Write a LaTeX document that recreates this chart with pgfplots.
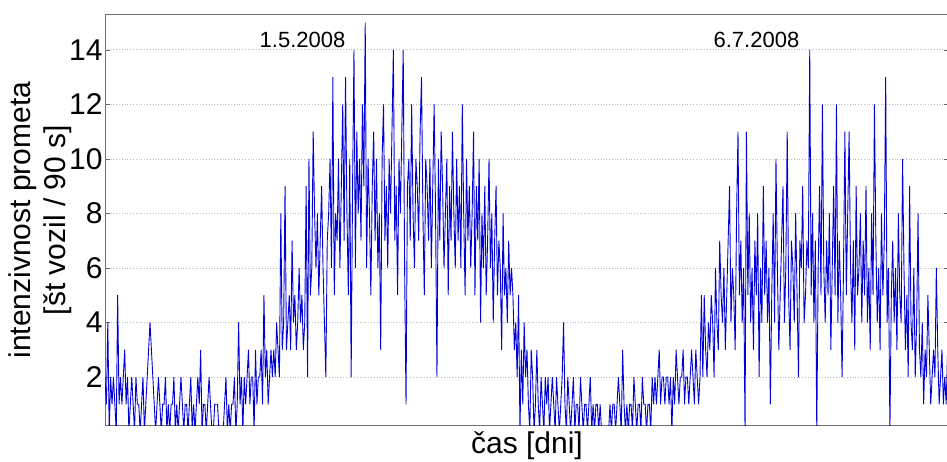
\documentclass[border=0pt]{standalone}
\usepackage{pgfplots}
\pgfplotsset{compat=1.18}
\usepackage{fontspec}
\setmainfont{Liberation Sans}
\begin{document}
\begin{tikzpicture}
\begin{axis}[
  at={(52.5pt,18pt)}, anchor=south west,
  scale only axis, width=422pt, height=205pt,
  xmin=0, xmax=600, ymin=0.24, ymax=15.28,
  xtick=\empty,
  ytick={2,4,...,14},
  ymajorgrids, grid style={densely dotted, gray!55, line width=0.4pt},
  tick align=inside, major tick length=2.5pt,
  tick style={black!60},
  axis line style={black!55, line width=0.5pt},
  ticklabel style={font=\fontsize{15}{15}\selectfont},
  yticklabel style={inner sep=1pt},
  /pgf/number format/assume math mode=true,
  ylabel={intenzivnost prometa\\{[}št vozil / 90 s]},
  ylabel style={at={([xshift=-16.5pt]axis description cs:0,0.5)}, anchor=south, align=center, inner sep=0pt, font=\fontsize{15}{17.5}\selectfont},
  xlabel={čas [dni]},
  xlabel style={at={([yshift=-14.2pt]axis description cs:0.5,0)}, anchor=base, inner sep=0pt, font=\fontsize{15}{15}\selectfont},
]
\addplot[color={rgb,1:red,0;green,0;blue,0.85}, line width=0.45pt, mark=none] table[x expr=\coordindex, y index=0, row sep=\\] {
y\\
2\\1\\4\\0\\2\\1\\2\\1\\0\\5\\
1\\2\\1\\2\\3\\1\\2\\0\\1\\2\\
1\\0\\2\\1\\1\\0\\1\\2\\0\\1\\
2\\3\\4\\3\\2\\1\\0\\1\\2\\1\\
0\\1\\1\\2\\0\\1\\0\\1\\1\\2\\
0\\1\\0\\1\\2\\1\\0\\1\\1\\0\\
1\\2\\0\\1\\0\\1\\2\\1\\3\\0\\
1\\1\\0\\1\\2\\1\\0\\0\\1\\1\\
1\\0\\0\\0\\0\\1\\2\\0\\1\\0\\
1\\1\\2\\0\\1\\4\\1\\2\\0\\2\\
1\\2\\3\\1\\2\\2\\0\\3\\1\\2\\
2\\3\\1\\5\\2\\3\\1\\2\\3\\2\\
3\\2\\4\\3\\2\\8\\3\\4\\9\\3\\
4\\5\\3\\7\\4\\5\\3\\4\\6\\4\\
5\\3\\4\\9\\2\\10\\5\\6\\11\\8\\
6\\8\\5\\7\\9\\6\\4\\2\\7\\8\\
10\\6\\13\\5\\8\\7\\10\\6\\9\\12\\
7\\13\\8\\5\\10\\2\\9\\14\\6\\11\\
8\\10\\7\\12\\9\\15\\6\\10\\8\\5\\
9\\11\\7\\10\\6\\8\\3\\10\\12\\7\\
9\\6\\10\\8\\11\\14\\7\\9\\5\\10\\
8\\11\\14\\6\\1\\9\\10\\7\\12\\8\\
6\\10\\9\\7\\11\\13\\8\\5\\10\\9\\
7\\10\\6\\9\\12\\8\\2\\10\\7\\11\\
9\\6\\8\\10\\5\\9\\7\\11\\8\\6\\
10\\7\\9\\6\\12\\8\\5\\10\\7\\9\\
6\\8\\11\\5\\9\\7\\10\\4\\8\\6\\
9\\5\\7\\10\\6\\8\\4\\7\\9\\5\\
7\\6\\3\\8\\5\\6\\4\\7\\5\\6\\
5\\3\\4\\2\\5\\0\\3\\1\\4\\2\\
3\\1\\0\\3\\2\\0\\1\\3\\1\\0\\
2\\1\\0\\2\\1\\2\\0\\1\\2\\1\\
0\\2\\1\\0\\1\\2\\4\\1\\0\\2\\
1\\0\\1\\2\\0\\1\\1\\0\\2\\1\\
0\\1\\1\\0\\1\\2\\0\\1\\0\\1\\
1\\0\\1\\0\\0\\0\\0\\0\\0\\1\\
0\\1\\1\\0\\1\\2\\1\\0\\3\\1\\
0\\1\\0\\1\\1\\0\\2\\1\\0\\1\\
1\\0\\2\\1\\1\\0\\1\\1\\0\\2\\
1\\2\\1\\2\\3\\1\\2\\2\\1\\2\\
2\\1\\2\\0\\2\\1\\3\\2\\1\\2\\
2\\3\\1\\2\\2\\1\\2\\3\\2\\1\\
3\\2\\1\\2\\5\\2\\5\\3\\2\\4\\
3\\5\\4\\2\\6\\4\\3\\7\\5\\4\\
6\\3\\5\\7\\9\\4\\6\\5\\3\\8\\
11\\5\\7\\4\\6\\0\\11\\5\\8\\4\\
6\\3\\7\\5\\8\\2\\6\\4\\9\\5\\
7\\4\\6\\1\\5\\8\\4\\10\\6\\3\\
5\\7\\9\\4\\6\\11\\5\\3\\7\\6\\
4\\8\\5\\2\\7\\6\\9\\4\\5\\7\\
6\\14\\5\\8\\4\\7\\0\\6\\9\\5\\
12\\6\\4\\7\\5\\8\\3\\6\\9\\5\\
12\\4\\7\\5\\2\\6\\11\\5\\8\\11\\
6\\4\\7\\3\\9\\5\\6\\8\\4\\7\\
5\\9\\4\\6\\3\\8\\5\\12\\7\\4\\
6\\3\\8\\5\\7\\13\\4\\6\\0\\5\\
7\\4\\6\\3\\8\\5\\4\\10\\6\\3\\
5\\2\\9\\4\\3\\6\\2\\4\\8\\3\\
2\\4\\1\\3\\2\\5\\3\\1\\2\\3\\
2\\6\\3\\1\\2\\3\\1\\2\\1\\3\\
2\\
};
\node[font=\fontsize{11}{11}\selectfont, anchor=base] at (axis cs:140.4,14.07) {1.5.2008};
\node[font=\fontsize{11}{11}\selectfont, anchor=base] at (axis cs:463.1,14.1) {6.7.2008};
\end{axis}
\pgfresetboundingbox
\path[use as bounding box] (0,0) rectangle (473.5pt,230.5pt);
\end{tikzpicture}
\end{document}
